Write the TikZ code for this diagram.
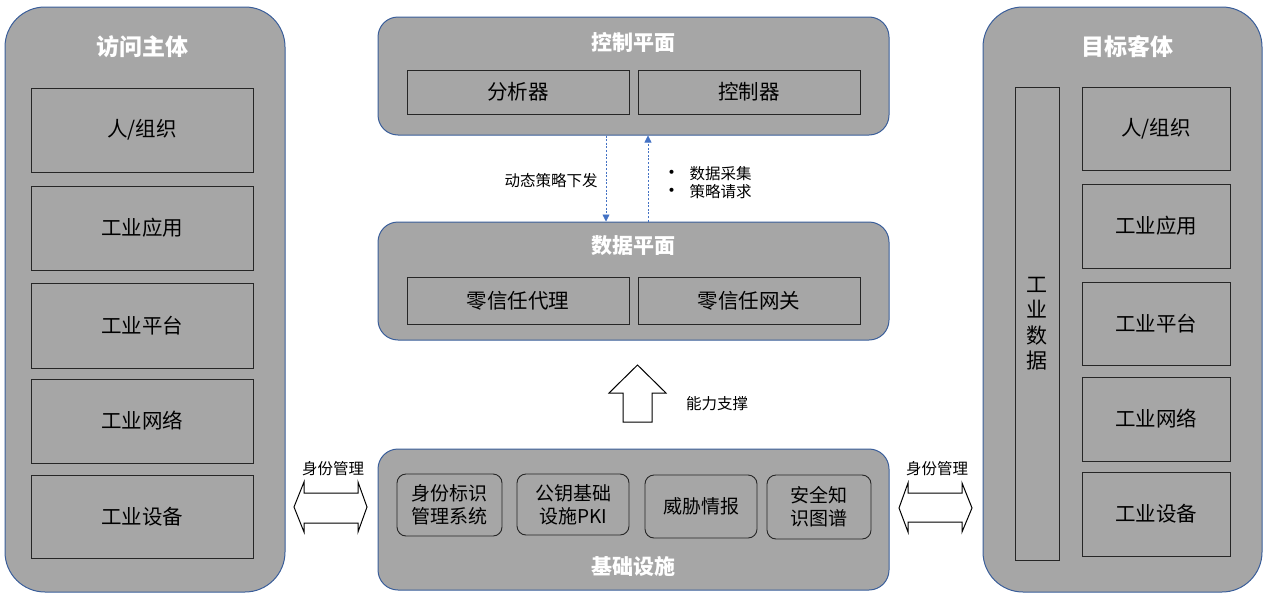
\documentclass[tikz,border=0pt]{standalone}
\usepackage{fontspec}
\setmainfont{Noto Sans CJK SC}
\usetikzlibrary{arrows.meta}
\definecolor{boxgray}{HTML}{A6A6A6}
\definecolor{edgeblue}{HTML}{3A5E9A}
\definecolor{arrowblue}{HTML}{4472C4}
\tikzset{
  outerbox/.style={draw=edgeblue, line width=1pt, fill=boxgray, rounded corners=#1, inner sep=0pt},
  outerbox/.default=20pt,
  innerbox/.style={draw=black!85, line width=0.9pt, fill=boxgray, inner sep=0pt, font=\fontsize{20.5}{22}\selectfont, text=black},
  infobox/.style={draw=black!85, line width=0.9pt, fill=boxgray, rounded corners=9pt, inner sep=0pt, font=\fontsize{19}{23}\selectfont, align=center},
  titletext/.style={text=white, font=\bfseries\fontsize{21}{24}\selectfont},
  bigtitle/.style={text=white, font=\bfseries\fontsize{23}{26}\selectfont},
  smalltext/.style={font=\fontsize{15.5}{20}\selectfont, text=black},
  dasharrow/.style={draw=arrowblue, line width=0.8pt, dash pattern=on 2pt off 1.6pt, -{Triangle[length=7pt,width=7pt]}},
  blockarrow/.style={draw=black, line width=1pt, fill=white, line join=miter},
}
\begin{document}
\begin{tikzpicture}[x=1pt,y=-1pt]
\useasboundingbox (0,0) rectangle (1268,597);

% left column
\node[outerbox=40pt, minimum width=280pt, minimum height=585pt] (subj) at (145,299.5) {};
\node[bigtitle] (subjt) at (142,47) {访问主体};
\node[innerbox, minimum width=222pt, minimum height=84pt] (l1) at (142,130) {人/组织};
\node[innerbox, minimum width=222pt, minimum height=84pt] (l2) at (142,228) {工业应用};
\node[innerbox, minimum width=222pt, minimum height=85pt] (l3) at (142,325.5) {工业平台};
\node[innerbox, minimum width=222pt, minimum height=84pt] (l4) at (142,421) {工业网络};
\node[innerbox, minimum width=222pt, minimum height=83pt] (l5) at (142,516.5) {工业设备};

% right column
\node[outerbox=40pt, minimum width=279pt, minimum height=585pt] (obj) at (1122.5,299.5) {};
\node[bigtitle] (objt) at (1127,47) {目标客体};
\node[innerbox, minimum width=44pt, minimum height=473pt, align=center, font=\fontsize{21}{25.5}\selectfont] (idata) at (1037,323.5) {工\\业\\数\\据};
\node[innerbox, minimum width=148pt, minimum height=83pt] (r1) at (1156,128.5) {人/组织};
\node[innerbox, minimum width=148pt, minimum height=84pt] (r2) at (1156,226) {工业应用};
\node[innerbox, minimum width=148pt, minimum height=83pt] (r3) at (1156,323.5) {工业平台};
\node[innerbox, minimum width=148pt, minimum height=84pt] (r4) at (1156,419) {工业网络};
\node[innerbox, minimum width=148pt, minimum height=84pt] (r5) at (1156,514) {工业设备};

% control plane
\node[outerbox=20pt, minimum width=511pt, minimum height=118pt] (ctrl) at (633.5,76) {};
\node[titletext] (ctrlt) at (633,42) {控制平面};
\node[innerbox, minimum width=222pt, minimum height=44pt] (ana) at (518,92) {分析器};
\node[innerbox, minimum width=222pt, minimum height=44pt] (con) at (749,92) {控制器};

% data plane
\node[outerbox=20pt, minimum width=511pt, minimum height=118pt] (data) at (633.5,281) {};
\node[titletext] (datat) at (633,246) {数据平面};
\node[innerbox, minimum width=222pt, minimum height=47pt] (zta) at (518,300.5) {零信任代理};
\node[innerbox, minimum width=222pt, minimum height=47pt] (ztg) at (749,300.5) {零信任网关};

% dashed arrows
\coordinate (dx) at (606,0);
\coordinate (ux) at (648,0);
\draw[dasharrow] (ctrl.south -| dx) -- (data.north -| dx);
\draw[dasharrow] (data.north -| ux) -- (ctrl.south -| ux);
\node[smalltext] (down) at (551,181) {动态策略下发};
\node[smalltext, align=left, anchor=west] (up) at (659,183) {{\fontsize{19}{20}\selectfont •}\hspace{8pt}数据采集\\[-2pt]{\fontsize{19}{20}\selectfont •}\hspace{8pt}策略请求};

% infrastructure
\node[outerbox=20pt, minimum width=511pt, minimum height=141pt] (infra) at (633.5,519.5) {};
\node[titletext] (infrat) at (633,566) {基础设施};
\node[infobox, minimum width=105pt, minimum height=62pt] (i1) at (449.5,505) {身份标识\\管理系统};
\node[infobox, minimum width=112pt, minimum height=61pt] (i2) at (573,504.5) {公钥基础\\设施PKI};
\node[infobox, minimum width=112pt, minimum height=63pt] (i3) at (701,506.5) {威胁情报};
\node[infobox, minimum width=104pt, minimum height=64pt] (i4) at (819,507) {安全知\\识图谱};

% block up arrow
\draw[blockarrow] (623,422) -- (623,393) -- (609,393) -- (637.5,365) -- (666,393) -- (652,393) -- (652,422) -- cycle;
\node[smalltext] (cap) at (717,404) {能力支撑};

% double arrows
\draw[blockarrow] (294,507) -- (304,482) -- (304,493) -- (358,493) -- (358,482) -- (367,507) -- (358,532) -- (358,523) -- (304,523) -- (304,532) -- cycle;
\node[smalltext] (idl) at (333,469) {身份管理};
\draw[blockarrow] (899,508) -- (908,483) -- (908,493) -- (962,493) -- (962,483) -- (972,508) -- (962,532) -- (962,522) -- (908,522) -- (908,532) -- cycle;
\node[smalltext] (idr) at (937,469) {身份管理};
\end{tikzpicture}
\end{document}
